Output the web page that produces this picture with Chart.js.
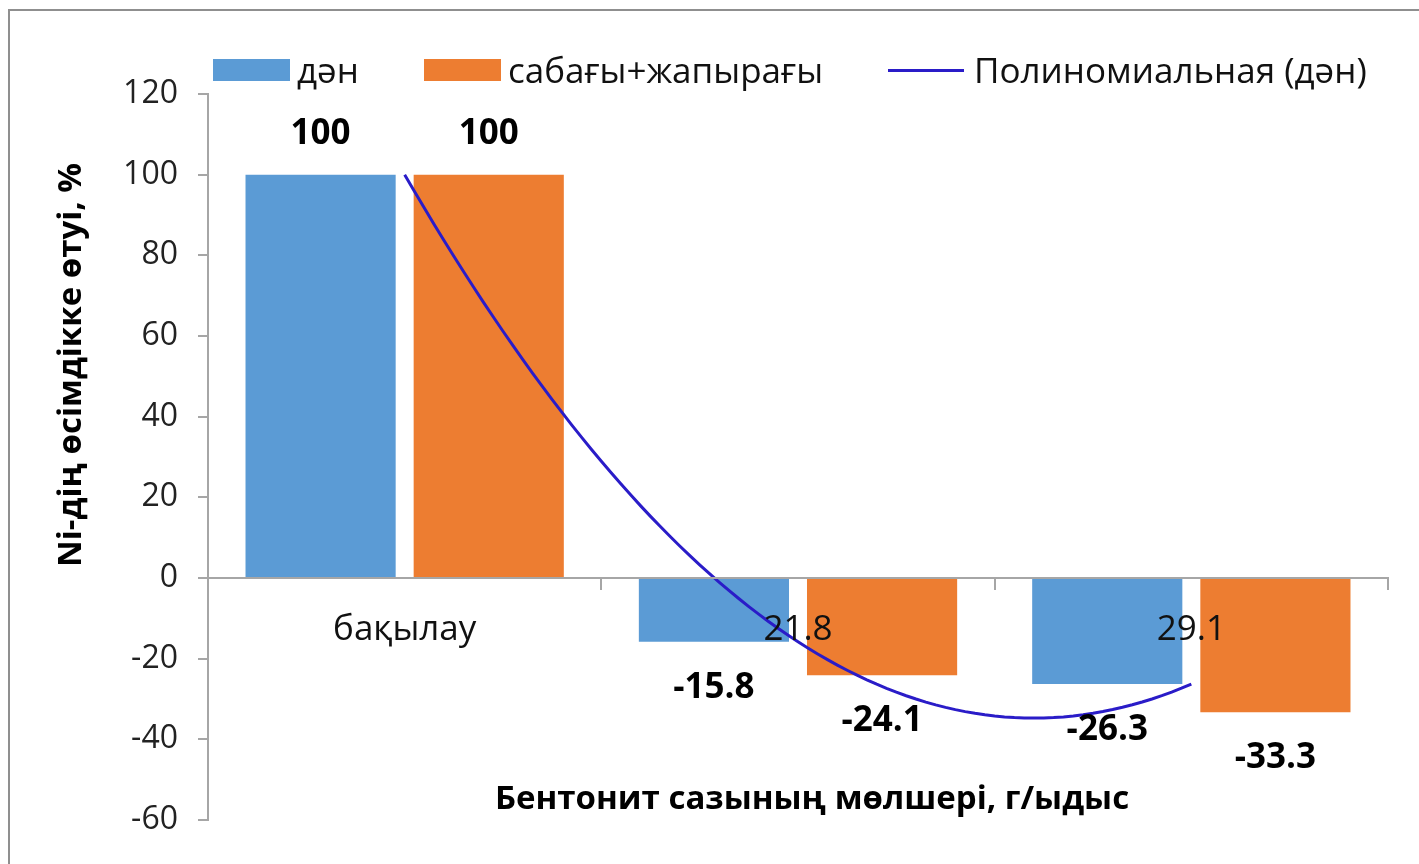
<!DOCTYPE html>
<html>
<head>
<meta charset="utf-8">
<script src="https://cdn.jsdelivr.net/npm/chart.js@4.4.1/dist/chart.umd.min.js"></script>
<style>
  html, body { margin: 0; padding: 0; background: #fff; }
  #wrap { position: relative; width: 1419px; height: 864px; overflow: hidden; }
  #frame { position: absolute; left: 8px; top: 9px; width: 1440px; height: 900px;
           border: 2px solid #8f8f8f; box-sizing: border-box; pointer-events: none; }
  #chart { position: absolute; left: 0; top: 0; }
  #legend { position: absolute; top: 48px; left: 213px; display: flex; align-items: center;
            font-family: 'Open Sans', 'Noto Sans', sans-serif; font-size: 35px; color: #111;
            line-height: 44px; white-space: nowrap; }
  .item { display: flex; align-items: center; margin-right: 65px; }
  .item:last-child { margin-right: 0; }
  .swatch { width: 77px; height: 22px; margin-right: 7px; }
  .line { width: 76px; height: 0; border-top: 3px solid; margin-right: 10px; }
</style>
</head>
<body>
<div id="wrap">
  <canvas id="chart" width="1419" height="864"></canvas>
  <div id="legend"></div>
  <div id="frame"></div>
</div>
<script>
// Bentonite clay dose categories and Ni uptake values (%)
const categories = ['бақылау', '21.8', '29.1'];
const danValues = [100, -15.8, -26.3];
const sabakValues = [100, -24.1, -33.3];
const yTickValues = [120, 100, 80, 60, 40, 20, 0, -20, -40, -60];

const seriesNames = ['дән', 'сабағы+жапырағы', 'Полиномиальная (дән)'];
const yTitle = 'Ni-дің өсімдікке өтуі, %';
const xTitle = 'Бентонит сазының мөлшері, г/ыдыс';

const BLUE = '#5b9bd5';
const ORANGE = '#ed7d31';
const TREND = '#2a1cc8';
const AXIS = '#a6a6a6';
const FONT = "'Open Sans', 'Noto Sans', sans-serif";

// Categories sit at positions 1..n on a numeric x axis so the trendline can be drawn smoothly
const catPos = categories.map((_, i) => i + 1);
const toPoints = vals => vals.map((v, i) => ({ x: catPos[i], y: v }));

// Second-order polynomial trendline (least squares) over the дән series
function polyFit2(xs, ys) {
  const S = k => xs.reduce((s, x) => s + Math.pow(x, k), 0);
  const T = k => xs.reduce((s, x, i) => s + Math.pow(x, k) * ys[i], 0);
  const A = [[S(0), S(1), S(2), T(0)], [S(1), S(2), S(3), T(1)], [S(2), S(3), S(4), T(2)]];
  for (let c = 0; c < 3; c++) {
    for (let r = c + 1; r < 3; r++) {
      const f = A[r][c] / A[c][c];
      for (let k = c; k < 4; k++) A[r][k] -= f * A[c][k];
    }
  }
  const coef = [0, 0, 0];
  for (let r = 2; r >= 0; r--) {
    let s = A[r][3];
    for (let k = r + 1; k < 3; k++) s -= A[r][k] * coef[k];
    coef[r] = s / A[r][r];
  }
  return x => coef[0] + coef[1] * x + coef[2] * x * x;
}
const trendFn = polyFit2(catPos, danValues);
const trendPoints = [];
const x0 = catPos[0], x1 = catPos[catPos.length - 1];
for (let i = 0; i <= 80; i++) {
  const x = x0 + i * (x1 - x0) / 80;
  trendPoints.push({ x, y: trendFn(x) });
}

// HTML legend
const legendEl = document.getElementById('legend');
legendEl.innerHTML =
  `<div class="item"><div class="swatch" style="background:${BLUE}"></div>${seriesNames[0]}</div>` +
  `<div class="item"><div class="swatch" style="background:${ORANGE}"></div>${seriesNames[1]}</div>` +
  `<div class="item"><div class="line" style="border-color:${TREND}"></div>${seriesNames[2]}</div>`;

// Value labels above positive bars / below negative bars
const valueLabels = {
  id: 'valueLabels',
  afterDatasetsDraw(chart) {
    const ctx = chart.ctx;
    ctx.save();
    ctx.font = `bold 35px ${FONT}`;
    ctx.fillStyle = '#000';
    ctx.textAlign = 'center';
    ctx.textBaseline = 'middle';
    chart.data.datasets.forEach((ds, di) => {
      if (ds.type === 'line') return;
      const meta = chart.getDatasetMeta(di);
      meta.data.forEach((bar, i) => {
        const v = ds.data[i].y;
        const y = v >= 0 ? bar.y - 41 : bar.y + 46;
        ctx.fillText(String(v), bar.x, y);
      });
    });
    ctx.restore();
  }
};

// Axis titles
const axisTitles = {
  id: 'axisTitles',
  afterDraw(chart) {
    const ctx = chart.ctx;
    ctx.save();
    ctx.font = `bold 33px ${FONT}`;
    ctx.fillStyle = '#000';
    ctx.textAlign = 'center';
    ctx.textBaseline = 'middle';
    ctx.fillText(xTitle, 812, 800);
    ctx.translate(72, 365);
    ctx.rotate(-Math.PI / 2);
    ctx.fillText(yTitle, 0, 0);
    ctx.restore();
  }
};

Chart.defaults.font.family = FONT;

new Chart(document.getElementById('chart'), {
  type: 'bar',
  data: {
    datasets: [
      {
        type: 'line',
        label: seriesNames[2],
        data: trendPoints,
        borderColor: TREND,
        borderWidth: 3,
        pointRadius: 0,
        fill: false,
        tension: 0,
        order: 0
      },
      {
        label: seriesNames[0],
        data: toPoints(danValues),
        backgroundColor: BLUE,
        categoryPercentage: 0.855,
        barPercentage: 0.893,
        order: 1
      },
      {
        label: seriesNames[1],
        data: toPoints(sabakValues),
        backgroundColor: ORANGE,
        categoryPercentage: 0.855,
        barPercentage: 0.893,
        order: 1
      }
    ]
  },
  options: {
    responsive: false,
    animation: false,
    layout: { padding: { left: 0, right: 31, top: 94, bottom: 44 } },
    plugins: { legend: { display: false }, tooltip: { enabled: false } },
    scales: {
      x: {
        type: 'linear',
        position: { y: 0 },
        min: x0 - 0.5,
        max: x1 + 0.5,
        offset: false,
        afterBuildTicks(scale) { scale.ticks = catPos.map(v => ({ value: v })); },
        grid: { offset: true, drawOnChartArea: false, drawTicks: true, tickLength: 11, color: AXIS, lineWidth: 2 },
        border: { display: true, color: AXIS, width: 2, z: 1 },
        ticks: {
          z: 1,
          color: '#111', font: { size: 35 }, padding: 20, maxRotation: 0, autoSkip: false,
          callback: v => categories[catPos.indexOf(v)] ?? ''
        }
      },
      y: {
        min: -60,
        max: 120,
        afterBuildTicks(scale) { scale.ticks = yTickValues.map(v => ({ value: v })); },
        afterFit(scale) { scale.width = 208; },
        grid: { drawOnChartArea: false, drawTicks: true, tickLength: 10, color: AXIS, lineWidth: 2 },
        border: { display: true, color: AXIS, width: 2 },
        ticks: { color: '#222', font: { size: 32 }, padding: 20 }
      }
    }
  },
  plugins: [valueLabels, axisTitles]
});
</script>
</body>
</html>
